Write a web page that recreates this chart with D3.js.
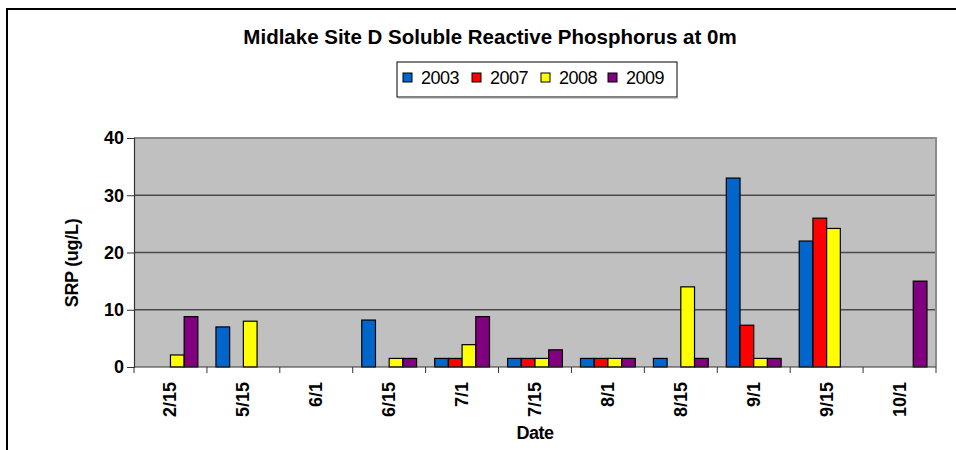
<!DOCTYPE html>
<html>
<head>
<meta charset="utf-8">
<script src="https://cdn.jsdelivr.net/npm/d3@7/dist/d3.min.js"></script>
<style>
  body { margin: 0; background: #fff; }
  svg { display: block; font-family: "Liberation Sans", Arial, sans-serif; }
</style>
</head>
<body>
<div id="chart"></div>
<script>
// data (null = no bar)
var dates = ["2/15", "5/15", "6/1", "6/15", "7/1", "7/15", "8/1", "8/15", "9/1", "9/15", "10/1"];
var years = ["2003", "2007", "2008", "2009"];
var v2003 = [null, 7, null, 8.2, 1.5, 1.5, 1.5, 1.5, 33, 22, null];
var v2007 = [null, null, null, null, 1.5, 1.5, 1.5, null, 7.3, 26, null];
var v2008 = [2.1, 8, null, 1.5, 3.9, 1.5, 1.5, 14, 1.5, 24.2, null];
var v2009 = [8.8, null, null, 1.5, 8.8, 3, 1.5, 1.5, 1.5, null, 15];
var yTicks = [0, 10, 20, 30, 40];
var colors = ["#0066cc", "#ff0000", "#ffff00", "#800080"];

var series = [v2003, v2007, v2008, v2009];

var W = 956, H = 450;
var margin = { top: 138, right: 20, bottom: 83, left: 134 };
var plotW = W - margin.left - margin.right;
var plotH = H - margin.top - margin.bottom;

var svg = d3.select("#chart").append("svg")
    .attr("width", W)
    .attr("height", H);

// outer chart frame (runs off the bottom/right of the picture)
svg.append("rect")
    .attr("x", 7).attr("y", 9)
    .attr("width", 980).attr("height", 480)
    .attr("fill", "none")
    .attr("stroke", "#000")
    .attr("stroke-width", 2);

svg.append("text")
    .attr("x", 490).attr("y", 44)
    .attr("text-anchor", "middle")
    .style("font-size", "20.5px")
    .style("font-weight", "bold")
    .text("Midlake Site D Soluble Reactive Phosphorus at 0m");

var x = d3.scaleBand().domain(dates).range([0, plotW]).padding(0);
var xInner = d3.scaleBand().domain(years).range([0, x.bandwidth()])
    .paddingInner(0).paddingOuter(0.66);
var y = d3.scaleLinear().domain([0, 40]).range([plotH, 0]);

var g = svg.append("g").attr("transform", "translate(" + margin.left + "," + margin.top + ")");

g.append("rect")
    .attr("width", plotW).attr("height", plotH)
    .attr("fill", "#c0c0c0");

// gridlines
g.selectAll(".grid")
  .data(yTicks.filter(function(d){ return d > 0 && d < 40; }))
  .enter().append("line")
    .attr("x1", 0).attr("x2", plotW)
    .attr("y1", function(d){ return y(d); })
    .attr("y2", function(d){ return y(d); })
    .attr("stroke", "#4a4a4a")
    .attr("stroke-width", 1.3);

// plot border top/right
g.append("path")
    .attr("d", "M0," + y(40) + "H" + plotW + "V" + plotH)
    .attr("fill", "none")
    .attr("stroke", "#8c8c8c")
    .attr("stroke-width", 2);

// bars
years.forEach(function(yr, si) {
  var data = series[si].map(function(v, i){ return { date: dates[i], value: v }; })
      .filter(function(d){ return d.value !== null; });
  g.selectAll(".bar" + yr)
    .data(data)
    .enter().append("rect")
      .attr("x", function(d){ return x(d.date) + xInner(yr); })
      .attr("y", function(d){ return y(d.value); })
      .attr("width", xInner.bandwidth())
      .attr("height", function(d){ return plotH - y(d.value); })
      .attr("fill", colors[si])
      .attr("stroke", "#000")
      .attr("stroke-width", 1.2);
});

// y axis
var yAxis = g.append("g")
    .call(d3.axisLeft(y).tickValues(yTicks).tickSize(7).tickPadding(3));
yAxis.select(".domain").attr("stroke", "#333").attr("stroke-width", 1.2);
yAxis.selectAll(".tick line").attr("stroke", "#333");
yAxis.selectAll("text")
    .style("font-size", "18px").style("font-weight", "bold")
    .attr("fill", "#000").attr("font-family", null);

// x axis: ticks at category boundaries
var xAxis = g.append("g").attr("transform", "translate(0," + plotH + ")");
xAxis.append("line")
    .attr("x1", 0).attr("x2", plotW)
    .attr("stroke", "#333").attr("stroke-width", 1.2);
xAxis.selectAll(".xtick")
  .data(dates.concat(["end"]))
  .enter().append("line")
    .attr("x1", function(d, i){ return i < dates.length ? x(d) : plotW; })
    .attr("x2", function(d, i){ return i < dates.length ? x(d) : plotW; })
    .attr("y1", 0).attr("y2", 6)
    .attr("stroke", "#333");
xAxis.selectAll(".xlab")
  .data(dates)
  .enter().append("text")
    .attr("transform", function(d){
      return "translate(" + (x(d) + x.bandwidth() / 2 + 6) + ",15) rotate(-90)";
    })
    .attr("text-anchor", "end")
    .style("font-size", "18px")
    .style("font-weight", "bold")
    .text(function(d){ return d; });

svg.append("text")
    .attr("x", margin.left + plotW / 2).attr("y", 439)
    .attr("text-anchor", "middle")
    .style("font-size", "18px").style("font-weight", "bold")
    .style("letter-spacing", "-0.5px")
    .text("Date");

svg.append("text")
    .attr("transform", "translate(78,263) rotate(-90)")
    .attr("text-anchor", "middle")
    .style("font-size", "18px").style("font-weight", "bold")
    .style("letter-spacing", "-0.3px")
    .text("SRP (ug/L)");

// legend
var legend = svg.append("g");
legend.append("rect")
    .attr("x", 397).attr("y", 62)
    .attr("width", 280).attr("height", 35)
    .attr("fill", "#fff")
    .attr("stroke", "#000").attr("stroke-width", 1);
legend.append("line")
    .attr("x1", 398).attr("x2", 678).attr("y1", 98).attr("y2", 98)
    .attr("stroke", "#999").attr("stroke-width", 1);
var legX = [403, 472, 541, 608];
years.forEach(function(yr, i) {
  legend.append("rect")
      .attr("x", legX[i]).attr("y", 73)
      .attr("width", 9).attr("height", 9)
      .attr("fill", colors[i])
      .attr("stroke", "#000").attr("stroke-width", 1);
  legend.append("text")
      .attr("x", legX[i] + 18).attr("y", 84)
      .style("font-size", "18px")
      .style("letter-spacing", "-0.5px")
      .text(yr);
});
</script>
</body>
</html>
